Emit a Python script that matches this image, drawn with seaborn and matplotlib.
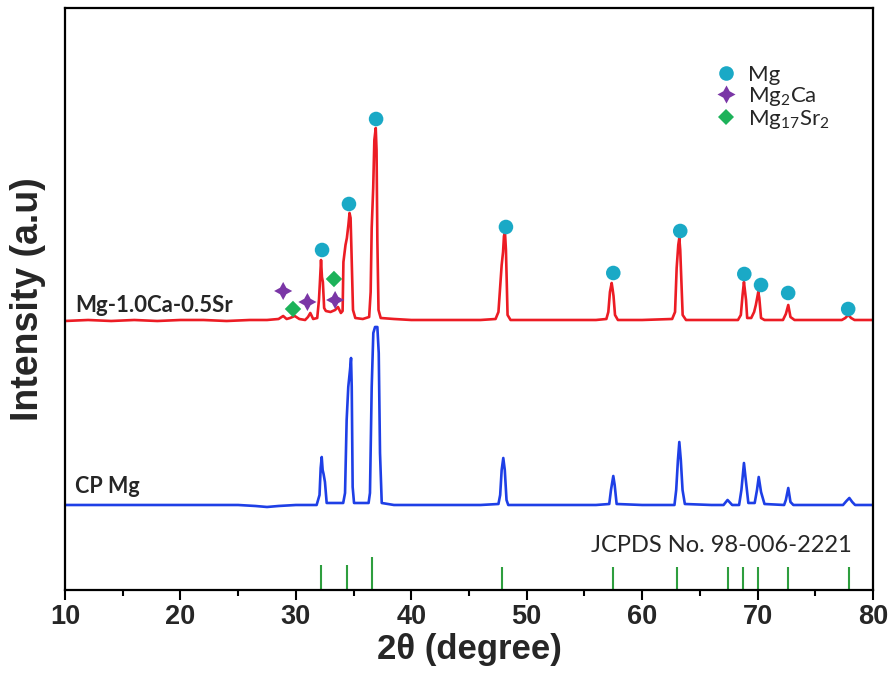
import matplotlib
matplotlib.use("Agg")
import matplotlib.pyplot as plt
import seaborn as sns
import pandas as pd
from matplotlib.lines import Line2D
from matplotlib.ticker import MultipleLocator

# ---------------- data ----------------
two_theta_alloy = [10.0, 12.0, 14.0, 16.0, 18.0, 20.0, 22.0, 24.0, 26.0, 27.5, 28.5, 28.9, 29.2, 29.5,
                   29.9, 30.3, 30.8, 31.05, 31.25, 31.5, 31.85, 32.0, 32.08, 32.18, 32.26, 32.34, 32.45,
                   32.6, 33.0, 33.4, 33.65, 33.9, 34.05, 34.12, 34.3, 34.42, 34.55, 34.65, 34.74, 34.82,
                   34.95, 35.15, 35.8, 36.35, 36.48, 36.57, 36.7, 36.8, 36.92, 36.99, 37.06, 37.16, 37.35,
                   38.5, 40.0, 42.0, 44.0, 46.0, 47.3, 47.55, 47.83, 47.95, 48.03, 48.12, 48.2, 48.27,
                   48.34, 48.6, 50.0, 52.0, 54.0, 56.0, 56.9, 57.07, 57.21, 57.36, 57.45, 57.52, 57.65,
                   57.9, 60.0, 62.6, 62.85, 62.99, 63.13, 63.22, 63.3, 63.37, 63.51, 63.8, 66.0, 68.3,
                   68.55, 68.7, 68.82, 68.92, 69.0, 69.1, 69.45, 69.7, 69.85, 70.06, 70.15, 70.3, 70.6,
                   72.2, 72.45, 72.66, 72.85, 73.2, 75.0, 77.3, 77.6, 77.86, 78.1, 78.4, 80.0]
intensity_alloy = [269, 270, 269, 270, 269, 270, 270, 269, 270, 270, 271, 274, 271, 272,
                   274, 271, 270, 273, 277, 271, 272, 290, 307, 330, 313, 308, 282,
                   279, 278, 280, 283, 277, 279, 328, 345, 352, 365, 377, 372, 338,
                   280, 272, 271, 273, 298, 362, 402, 450, 462, 440, 350, 280, 272,
                   271, 270, 270, 270, 270, 271, 278, 325, 338, 354, 357, 340, 308,
                   275, 270, 270, 270, 270, 270, 271, 278, 298, 307, 300, 294, 275,
                   270, 270, 271, 278, 322, 345, 352, 340, 318, 275, 270, 270, 270,
                   275, 295, 308, 298, 290, 272, 272, 278, 285, 298, 292, 272, 270,
                   270, 276, 285, 273, 270, 270, 270, 272, 275, 272, 270, 270]

two_theta_cp = [10.0, 14.0, 18.0, 22.0, 25.0, 26.5, 27.5, 28.5, 30.0, 31.8, 32.05, 32.15, 32.24, 32.32,
                32.4, 32.52, 32.67, 33.0, 33.6, 34.1, 34.26, 34.4, 34.54, 34.69, 34.78, 34.84, 34.92,
                35.04, 35.8, 36.3, 36.42, 36.57, 36.71, 36.86, 37.06, 37.18, 37.29, 37.44, 38.5, 42.0,
                46.0, 47.55, 47.7, 47.83, 47.97, 48.1, 48.25, 48.4, 52.0, 56.0, 57.15, 57.3, 57.5,
                57.62, 57.79, 60.0, 62.8, 62.95, 63.1, 63.22, 63.35, 63.5, 63.7, 66.0, 67.05, 67.4,
                67.8, 68.4, 68.6, 68.82, 68.98, 69.2, 69.75, 69.95, 70.1, 70.3, 70.6, 72.3, 72.45,
                72.66, 72.85, 73.1, 75.0, 77.4, 77.7, 77.95, 78.2, 78.45, 80.0]
intensity_cp = [85, 85, 85, 85, 85, 84, 83, 84, 85, 85, 95, 122, 133, 120,
                116, 108, 87, 87, 87, 87, 97, 170, 203, 220, 232, 203, 103,
                87, 87, 87, 97, 203, 257, 263, 263, 237, 137, 87, 85, 85,
                85, 86, 95, 120, 132, 120, 90, 85, 85, 85, 86, 100, 114,
                105, 86, 85, 85, 100, 130, 148, 130, 100, 86, 85, 85, 90,
                85, 85, 100, 127, 110, 87, 87, 100, 113, 98, 86, 85, 90,
                102, 88, 85, 85, 85, 89, 92, 88, 85, 85]

mg_peak_pos = [32.27, 34.6, 36.95, 48.2, 57.5, 63.3, 68.85, 70.3, 72.65, 77.85]
mg_peak_mark = [340, 386, 471, 363, 317, 359, 316, 305, 297, 281]
mg2ca_pos = [28.9, 31.0, 33.4]
mg2ca_mark = [299, 288, 290]
mg17sr2_pos = [29.75, 33.3]
mg17sr2_mark = [281, 311]

jcpds_pos = [32.2, 34.4, 36.6, 47.9, 57.45, 63.0, 67.4, 68.7, 70.05, 72.6, 77.95]
jcpds_int = [25, 25, 33, 23, 23, 23, 23, 23, 23, 23, 23]

x_ticks = [10, 20, 30, 40, 50, 60, 70, 80]
x_tick_labels = ["10", "20", "30", "40", "50", "60", "70", "80"]

label_alloy = "Mg-1.0Ca-0.5Sr"
label_cp = "CP Mg"
label_ref = "JCPDS No. 98-006-2221"
legend_labels = ["Mg", "Mg$\\mathregular{_2}$Ca", "Mg$\\mathregular{_{17}}$Sr$\\mathregular{_2}$"]

# ---------------- styling ----------------
red = "#EC1C24"
blue = "#1E3FE6"
mg_col = "#1AA9C6"
ca_col = "#7A36A6"
sr_col = "#1DB25A"
stick_col = "#2E9E3E"

sns.set_style("ticks")
plt.rcParams['font.family'] = ['Liberation Sans', 'DejaVu Sans']

fig = plt.figure(figsize=(8.93, 6.89), dpi=100)
ax = fig.add_axes([0.0728, 0.1437, 0.9048, 0.8447])

df_alloy = pd.DataFrame({"2theta": two_theta_alloy, "I": intensity_alloy})
df_cp = pd.DataFrame({"2theta": two_theta_cp, "I": intensity_cp})

sns.lineplot(data=df_alloy, x="2theta", y="I", ax=ax, color=red, lw=1.9, estimator=None, sort=False)
sns.lineplot(data=df_cp, x="2theta", y="I", ax=ax, color=blue, lw=1.9, estimator=None, sort=False)

ax.vlines(jcpds_pos, 0, jcpds_int, color=stick_col, lw=1.5)

sns.scatterplot(x=mg_peak_pos, y=mg_peak_mark, ax=ax, color=mg_col, marker="o", s=110,
                edgecolor="none", zorder=5)
sns.scatterplot(x=mg2ca_pos, y=mg2ca_mark, ax=ax, color=ca_col, marker=(4, 1, 0), s=170,
                edgecolor="none", zorder=5)
sns.scatterplot(x=mg17sr2_pos, y=mg17sr2_mark, ax=ax, color=sr_col, marker="D", s=70,
                edgecolor="none", zorder=5)

ax.text(10.85, 278, label_alloy, fontsize=16, fontweight="bold", family=["Lato", "DejaVu Sans"],
        va="baseline", ha="left")
ax.text(10.85, 97, label_cp, fontsize=15.5, fontweight="bold", family=["Lato", "DejaVu Sans"],
        va="baseline", ha="left")
ax.text(78.2, 38, label_ref, fontsize=17, family=["Lato", "DejaVu Sans"],
        va="baseline", ha="right")

handles = [
    Line2D([], [], ls="", marker="o", color=mg_col, markersize=10.5, markeredgewidth=0),
    Line2D([], [], ls="", marker=(4, 1, 0), color=ca_col, markersize=13, markeredgewidth=0),
    Line2D([], [], ls="", marker="D", color=sr_col, markersize=8.5, markeredgewidth=0),
]
ax.legend(handles, legend_labels, loc="upper left", bbox_to_anchor=(0.807, 0.902), frameon=False,
          prop={"family": ["Lato", "DejaVu Sans"], "size": 16}, handlelength=0.8,
          handletextpad=0.6, labelspacing=0.0, borderpad=0, borderaxespad=0)

ax.set_xlim(10, 80)
ax.set_ylim(0, 582)
ax.set_xticks(x_ticks)
ax.set_xticklabels(x_tick_labels, fontsize=19.5, fontweight="bold")
ax.xaxis.set_minor_locator(MultipleLocator(5))
ax.set_yticks([])
ax.tick_params(axis="x", which="major", length=7, width=1.5, direction="out", pad=3, color="black")
ax.tick_params(axis="x", which="minor", length=4, width=1.5, direction="out", color="black")

for sp in ax.spines.values():
    sp.set_visible(True)
    sp.set_linewidth(1.6)
    sp.set_color("black")

ax.set_xlabel("2θ (degree)", fontsize=25, fontweight="bold", labelpad=2)
ax.set_ylabel("Intensity (a.u)", fontsize=27, fontweight="bold", labelpad=12)
ax.yaxis.set_label_coords(-0.023, 0.5)

fig.savefig("out.png", dpi=100)
